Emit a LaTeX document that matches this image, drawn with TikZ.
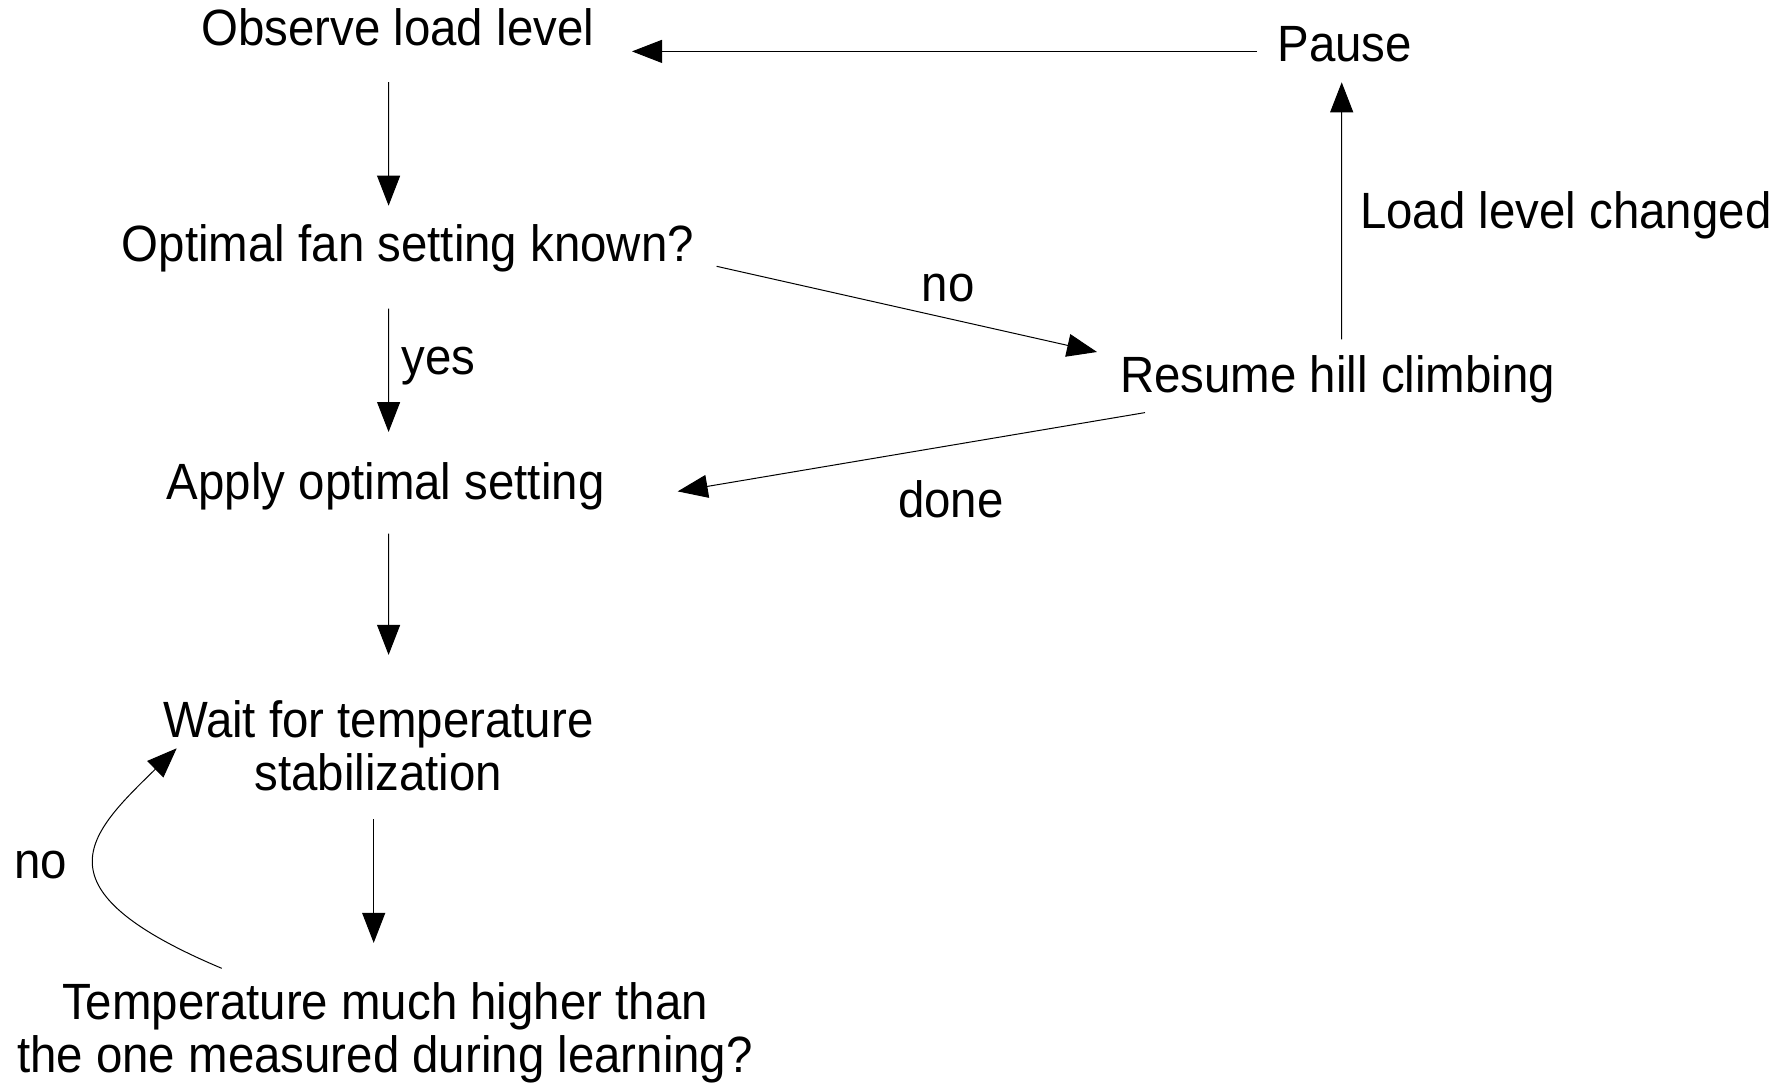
\documentclass[tikz,border=0pt]{standalone}
\usepackage{fontspec}
\setmainfont{Liberation Sans}[FakeStretch=0.93]
\usetikzlibrary{arrows.meta,calc}
% two-line centred text whose base anchor is the first line's baseline
\newcommand{\twolines}[2]{\begin{tabular}[t]{@{}c@{}}#1\\#2\end{tabular}}
\begin{document}
\begin{tikzpicture}[x=1pt,y=-1pt,
  txt/.style={inner sep=0pt, anchor=base, font=\fontsize{51}{53.7}\selectfont},
  arr/.style={draw=black, line width=1pt, -{Triangle[length=30pt,width=23pt]}},
]
\useasboundingbox (0,0) rectangle (1792,1084);

% states
\node[txt] (obs)    at (397.7,45.7)  {Observe load level};
\node[txt] (pause)  at (1344.6,61.7) {Pause};
\node[txt] (opt)    at (408,261.7)   {Optimal fan setting known?};
\node[txt] (resume) at (1337.7,392)  {Resume hill climbing};
\node[txt] (apply)  at (385.7,499.5) {Apply optimal setting};
\node[txt] (wait)   at (378.3,737)   {\twolines{Wait for temperature}{stabilization}};
\node[txt] (temp)   at (385,1019)    {\twolines{Temperature much higher than}{the one measured during learning?}};

% edge labels
\node[txt] (lno)   at (948,301.7)  {no};
\node[txt] (lyes)  at (438.3,374)  {yes};
\node[txt] (ldone) at (951,517.7)  {done};
\node[txt, anchor=base west] (lchg) at (1360,228.6) {Load level changed};
\node[txt] (lno2)  at (40.6,878)   {no};

% transitions
\draw[arr] ($(pause.base)+(-87.6,-10.3)$) -- ($(obs.base)+(234.3,5.7)$);
\draw[arr] ($(obs.base)+(-9.1,36.3)$) -- ($(opt.base)+(-19.4,-56)$);
\draw[arr] ($(opt.base)+(-19.4,46.9)$) -- ($(apply.base)+(2.9,-67.5)$);
\draw[arr] ($(opt.base)+(308.6,4.6)$) -- ($(resume.base)+(-240.7,-40)$);
\draw[arr] ($(resume.base)+(-192.7,20.6)$) -- ($(apply.base)+(292,-8.1)$);
\draw[arr] ($(resume.base)+(4,-52.6)$) -- ($(pause.base)+(-2.9,20.6)$);
\draw[arr] ($(apply.base)+(2.9,34.2)$) -- ($(wait.base)+(10.3,-82.1)$);
\draw[arr] ($(wait.base)+(-4.6,82.4)$) -- ($(temp.base)+(-11.3,-76.1)$);
\draw[arr] ($(temp.base)+(-163.3,-50.7)$)
  .. controls +(-190,-80) and +(-88,86) .. ($(wait.base)+(-201.6,11.3)$);
\end{tikzpicture}
\end{document}
